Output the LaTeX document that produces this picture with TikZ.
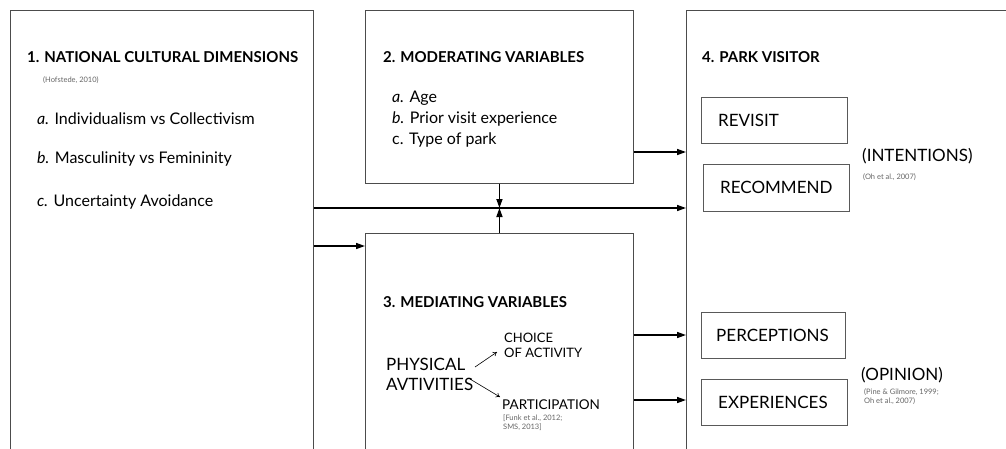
\documentclass[tikz,border=0pt]{standalone}
\usepackage{fontspec}
\setmainfont{Lato}
\usetikzlibrary{arrows.meta}
\tikzset{
  bigbox/.style={draw=black!70, line width=0.9pt, inner sep=0pt, anchor=north west},
  smallbox/.style={draw=black!65, line width=0.9pt, inner sep=0pt, anchor=north west},
  arr/.style={line width=1.5pt, -{Triangle[length=9pt,width=6pt]}},
  thinarr/.style={line width=0.6pt, -{To[length=4pt,width=5pt]}},
  head/.style={anchor=west, font=\fontsize{15}{17}\selectfont\bfseries, inner sep=0pt},
  item/.style={anchor=west, font=\fontsize{16}{18}\selectfont, inner sep=0pt},
  boxlabel/.style={anchor=west, font=\fontsize{17}{19}\selectfont, inner sep=0pt},
  cite/.style={anchor=north west, font=\fontsize{7.5}{9}\selectfont, text=black!60, inner sep=0pt, align=left},
}
\begin{document}
\begin{tikzpicture}[x=1pt,y=-1pt]
\useasboundingbox (0,0) rectangle (1006,448);
\clip (0,0) rectangle (1006,448);
\fill[white] (0,0) rectangle (1006,448);
% main boxes
\node[bigbox, minimum width=303pt, minimum height=460pt] (b1) at (10,10) {};
\node[bigbox, minimum width=268pt, minimum height=173pt] (b2) at (365,10) {};
\node[bigbox, minimum width=268pt, minimum height=230pt] (b3) at (365,233) {};
\node[bigbox, minimum width=330pt, minimum height=460pt] (b4) at (686,10) {};
% inner boxes
\node[smallbox, minimum width=146pt, minimum height=46pt] (rv) at (701,97) {};
\node[smallbox, minimum width=146pt, minimum height=47pt] (rc) at (703,164) {};
\node[smallbox, minimum width=144pt, minimum height=46pt] (pc) at (701,312) {};
\node[smallbox, minimum width=146pt, minimum height=46pt] (ex) at (701,379) {};
\node[boxlabel] (rvt) at (718,120) {REVISIT};
\node[boxlabel] (rct) at (720,187) {RECOMMEND};
\node[boxlabel] (pct) at (716,335) {PERCEPTIONS};
\node[boxlabel] (ext) at (718,402) {EXPERIENCES};
% box 1 text
\node[head] (h1) at (27,57) {1. NATIONAL CULTURAL DIMENSIONS};
\node[cite, anchor=west] (c1) at (43,80) {(Hofstede, 2010)};
\node[item] (i1a) at (37,119) {\textit{a.} Individualism vs Collectivism};
\node[item] (i1b) at (37,159) {\textit{b.} Masculinity vs Femininity};
\node[item] (i1c) at (37,202) {\textit{c.} Uncertainty Avoidance};
% box 2 text
\node[head] (h2) at (383,57) {2. MODERATING VARIABLES};
\node[item] (i2a) at (392,98) {\textit{a.} Age};
\node[item] (i2b) at (392,119) {\textit{b.} Prior visit experience};
\node[item] (i2c) at (392,140) {c. Type of park};
% box 3 text
\node[head] (h3) at (383,302) {3. MEDIATING VARIABLES};
\node[anchor=west, inner sep=0pt, align=left, font=\fontsize{17}{20}\selectfont] (pa) at (386,374) {PHYSICAL\\AVTIVITIES};
\node[anchor=west, inner sep=0pt, align=left, font=\fontsize{13}{15}\selectfont] (ch) at (504,345) {CHOICE\\OF ACTIVITY};
\node[anchor=west, inner sep=0pt, font=\fontsize{13.5}{16}\selectfont] (pt) at (502,405) {PARTICIPATION};
\node[cite] (c3) at (503,415) {[Funk et al., 2012;\\SMS, 2013]};
\coordinate (sa1) at (475,367);
\coordinate (sa2) at (497,352);
\coordinate (sb1) at (470,379);
\coordinate (sb2) at (500,397);
\draw[thinarr] (sa1) -- (sa2);
\draw[thinarr] (sb1) -- (sb2);
% box 4 text
\node[head] (h4) at (702,57) {4. PARK VISITOR};
\node[anchor=west, inner sep=0pt, font=\fontsize{17}{20}\selectfont] (int) at (862,156) {(INTENTIONS)};
\node[cite] (c4) at (863,173) {(Oh et al., 2007)};
\node[anchor=west, inner sep=0pt, font=\fontsize{17}{20}\selectfont] (op) at (861,375) {(OPINION)};
\node[cite] (c5) at (864,388) {(Pine \& Gilmore, 1999;\\Oh et al., 2007)};
% connectors
\coordinate (y152) at (0,152);
\coordinate (y208) at (0,208);
\coordinate (y246) at (0,246);
\coordinate (y335) at (0,335);
\coordinate (y400) at (0,400);
\draw[arr] (b2.east |- y152) -- (b4.west |- y152);
\draw[arr] (b1.east |- y208) -- (b4.west |- y208);
\draw[arr] (b1.east |- y246) -- (b3.west |- y246);
\draw[arr] (b3.east |- y335) -- (b4.west |- y335);
\draw[arr] (b3.east |- y400) -- (b4.west |- y400);
\draw[arr] (b2.south) -- (b2.south |- y208);
\draw[arr] (b3.north) -- (b3.north |- y208);
\end{tikzpicture}
\end{document}
